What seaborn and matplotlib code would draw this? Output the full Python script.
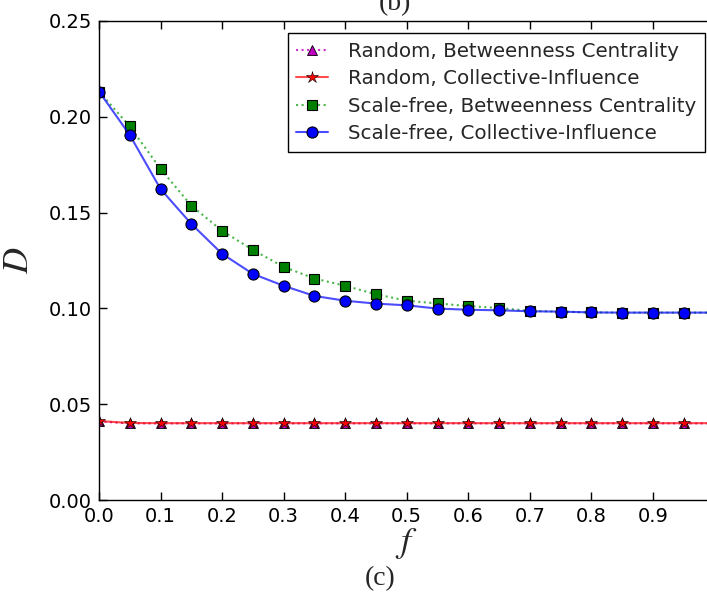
import numpy as np
import pandas as pd
import matplotlib
matplotlib.use("Agg")
import matplotlib.pyplot as plt
import seaborn as sns

f_vals = [0.00, 0.05, 0.10, 0.15, 0.20, 0.25, 0.30, 0.35, 0.40, 0.45, 0.50,
          0.55, 0.60, 0.65, 0.70, 0.75, 0.80, 0.85, 0.90, 0.95, 1.00]
random_bc = [0.0410, 0.0400, 0.0400, 0.0400, 0.0400, 0.0400, 0.0400, 0.0400, 0.0400, 0.0400, 0.0400,
             0.0400, 0.0400, 0.0400, 0.0400, 0.0400, 0.0400, 0.0400, 0.0400, 0.0400, 0.0400]
random_ci = [0.0412, 0.0402, 0.0401, 0.0401, 0.0401, 0.0401, 0.0401, 0.0401, 0.0401, 0.0401, 0.0401,
             0.0401, 0.0401, 0.0401, 0.0401, 0.0401, 0.0401, 0.0401, 0.0401, 0.0401, 0.0401]
sf_bc = [0.2132, 0.1950, 0.1728, 0.1536, 0.1405, 0.1305, 0.1217, 0.1156, 0.1118, 0.1074, 0.1040,
         0.1026, 0.1012, 0.1002, 0.0987, 0.0983, 0.0979, 0.0978, 0.0978, 0.0978, 0.0978]
sf_ci = [0.2132, 0.1905, 0.1623, 0.1441, 0.1285, 0.1180, 0.1118, 0.1065, 0.1040, 0.1025, 0.1016,
         0.0999, 0.0993, 0.0990, 0.0985, 0.0983, 0.0979, 0.0978, 0.0978, 0.0978, 0.0978]
labels = ["Random, Betweenness Centrality", "Random, Collective-Influence",
          "Scale-free, Betweenness Centrality", "Scale-free, Collective-Influence"]
x_ticks = [0.0, 0.1, 0.2, 0.3, 0.4, 0.5, 0.6, 0.7, 0.8, 0.9]
y_ticks = [0.00, 0.05, 0.10, 0.15, 0.20, 0.25]

sns.set_style("ticks")
plt.rcParams['font.family'] = ['DejaVu Sans']
plt.rcParams['mathtext.fontset'] = 'stix'

fig = plt.figure(figsize=(7.07, 5.92), dpi=100)
ax = fig.add_axes([99 / 707, 92 / 592, 615.5 / 707, 479 / 592])

series = [random_bc, random_ci, sf_bc, sf_ci]
styles = [
    dict(marker="^", ls=":", color=(0.75, 0.0, 0.75, 0.8), markerfacecolor=(0.75, 0.0, 0.75), ms=7, mew=0.6),
    dict(marker="*", ls="-", color=(1.0, 0.0, 0.0, 0.7), markerfacecolor=(1.0, 0.0, 0.0), ms=9, mew=0.4),
    dict(marker="s", ls=":", color=(0.0, 0.6, 0.0, 0.7), markerfacecolor=(0.0, 0.5, 0.0), ms=7, mew=0.8),
    dict(marker="o", ls="-", color=(0.0, 0.0, 1.0, 0.7), markerfacecolor=(0.0, 0.0, 1.0), ms=8, mew=0.8),
]
for vals, lab, st in zip(series, labels, styles):
    df = pd.DataFrame({"f": f_vals, "D": vals})
    sns.lineplot(data=df, x="f", y="D", ax=ax, label=lab,
                 marker=st["marker"], ls=st["ls"], color=st["color"],
                 markerfacecolor=st["markerfacecolor"], markersize=st["ms"],
                 markeredgecolor="black", markeredgewidth=st["mew"], linewidth=1.5)

ax.set_xlim(0, 1.0)
ax.set_ylim(0, 0.25)
ax.set_xticks(x_ticks)
ax.set_xticklabels([f"{v:.1f}" for v in x_ticks])
ax.set_yticks(y_ticks)
ax.set_yticklabels([f"{v:.2f}" for v in y_ticks])
ax.tick_params(direction="in", top=True, right=True, length=6, width=1,
               labelsize=14, pad=5, colors="black")
for sp in ax.spines.values():
    sp.set_visible(True)
    sp.set_color("black")
    sp.set_linewidth(1.0)

ax.set_xlabel("$f$", fontsize=26, labelpad=0)
ax.set_ylabel("$D$", fontsize=26, labelpad=10)

leg = ax.legend(loc="upper right", bbox_to_anchor=(0.985, 0.975), borderaxespad=0,
                fontsize=14.3, frameon=True, fancybox=False, framealpha=1, edgecolor="black",
                borderpad=0.45, labelspacing=0.42, handlelength=1.6, handletextpad=1.0)
leg.get_frame().set_linewidth(1.0)

fig.text(395 / 707, 1 - 10 / 592, "(b)", ha="center", va="baseline",
         fontsize=20, family="Liberation Serif")
fig.text(380 / 707, 1 - 585 / 592, "(c)", ha="center", va="baseline",
         fontsize=20, family="Liberation Serif")

fig.savefig("out.png", dpi=100)
